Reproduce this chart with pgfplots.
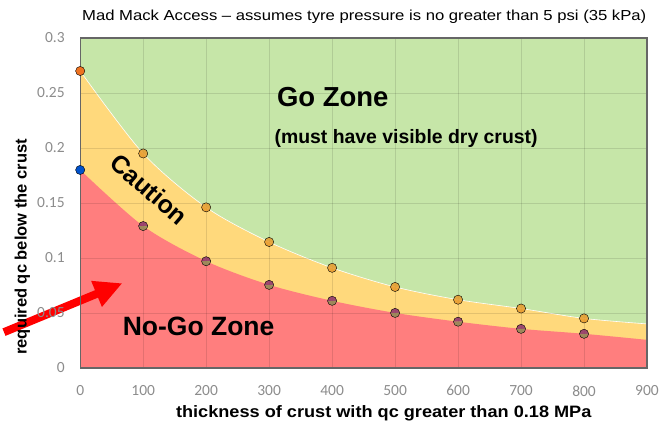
\documentclass[border=0pt]{standalone}
\usepackage{fontspec}
\setmainfont{Liberation Sans}
\newfontfamily\carlito{Carlito}
\usepackage{graphicx}
\usepackage{pgfplots}
\usepackage{pgfplotstable}
\pgfplotsset{compat=1.18}
\usetikzlibrary{arrows.meta}
\definecolor{gozone}{HTML}{C6E6A8}
\definecolor{caution}{HTML}{FFD97C}
\definecolor{nogo}{HTML}{FF7E7E}
\definecolor{upmark}{HTML}{E89A2C}
\definecolor{lowmarkA}{HTML}{8C2F6C}
\definecolor{lowmarkB}{HTML}{8F8A55}
\definecolor{ticklab}{HTML}{8C8C8C}
\pgfplotstableread{
x y
0 0.270
100 0.195
200 0.146
300 0.1145
400 0.091
500 0.0736
600 0.062
700 0.054
800 0.045
900 0.040
}\uppertab
\pgfplotstableread{
x y
0 0.180
100 0.129
200 0.097
300 0.0755
400 0.061
500 0.050
600 0.042
700 0.0355
800 0.031
900 0.0255
}\lowertab
\pgfplotstableread{
x y
0 0.3
900 0.3
}\toptab
\pgfplotstableread{
x y
100 0.195
200 0.146
300 0.1145
400 0.091
500 0.0736
600 0.062
700 0.054
800 0.045
}\upmarks
\pgfplotstableread{
x y
100 0.129
200 0.097
300 0.0755
400 0.061
500 0.050
600 0.042
700 0.0355
800 0.031
}\lowmarks
\begin{document}
\begin{tikzpicture}
\begin{axis}[
  scale only axis, width=567pt, height=330pt,
  xmin=0, xmax=900, ymin=0, ymax=0.3,
  xtick={0,100,200,300,400,500,600,700,800,900},
  ytick={0,0.05,0.1,0.15,0.2,0.25,0.3},
  yticklabels={0,0.05,0.1,0.15,0.2,0.25,0.3},
  /pgf/number format/assume math mode=true,
  tick label style={font=\carlito\fontsize{15.5}{17}\selectfont, text=ticklab},
  x tick label style={yshift=-14pt},
  y tick label style={xshift=-12pt},
  major tick length=0pt,
  grid=major,
  major grid style={black, opacity=0.11, line width=0.8pt},
  axis on top,
  axis line style={draw=black!60, line width=1.4pt},
  clip=false,
]
\addplot[fill=gozone, draw=none] table {\toptab} \closedcycle;
\addplot[fill=caution, draw=none, smooth] table {\uppertab} \closedcycle;
\addplot[white, line width=0.6pt, smooth] table {\uppertab};
\addplot[fill=nogo, draw=none, smooth] table {\lowertab} \closedcycle;
\addplot[only marks, mark=*, mark size=4.6pt, mark options={draw=none, fill=upmark, fill opacity=0.85}] table {\upmarks};
\addplot[only marks, mark=halfcircle*, mark size=4.6pt, mark options={draw=none, fill=lowmarkA, mark color=lowmarkB, fill opacity=0.85}] table {\lowmarks};
\addplot[only marks, mark=*, mark size=4.6pt, mark options={draw=none, fill=upmark!75!red}] coordinates {(0,0.27)};
\addplot[only marks, mark=*, mark size=4.6pt, mark options={draw=none, fill=blue!60!cyan!80!black}] coordinates {(0,0.18)};
\draw[black!90, line width=2.2pt] (rel axis cs:1,0) -- (rel axis cs:1,1);
\draw[green!25!black, line width=1.4pt] (rel axis cs:0,1) -- (rel axis cs:1,1);
\node[font=\bfseries\fontsize{27.5}{30}\selectfont] at (axis cs:401,0.2464) {Go Zone};
\node[font=\bfseries\fontsize{19.4}{22}\selectfont] at (axis cs:517.5,0.209) {(must have visible dry crust)};
\node[font=\bfseries\fontsize{25}{28}\selectfont, rotate=-41] at (axis cs:109.5,0.1627) {Caution};
\node[font=\bfseries\fontsize{26.5}{30}\selectfont] at (axis cs:188,0.0373) {No-Go Zone};
\draw[red, line width=8pt, -{Triangle[length=28pt,width=26pt]}] (axis cs:-121,0.0325) -- (axis cs:67,0.077);
\node[font=\fontsize{14.5}{16}\selectfont] at (axis cs:451,0.319) {\scalebox{1.15}[1]{Mad Mack Access – assumes tyre pressure is no greater than 5 psi (35 kPa)}};
\node[font=\bfseries\fontsize{16.5}{18}\selectfont] at (axis cs:482,-0.0409) {\scalebox{1.1}[1]{thickness of crust with qc greater than 0.18 MPa}};
\node[font=\bfseries\fontsize{16.5}{18}\selectfont, rotate=90] at (axis cs:-92,0.11) {required qc below the crust};
\path (rel axis cs:-0.1411,-0.1667) rectangle (rel axis cs:1.0441,1.1152);
\end{axis}
\end{tikzpicture}
\end{document}
